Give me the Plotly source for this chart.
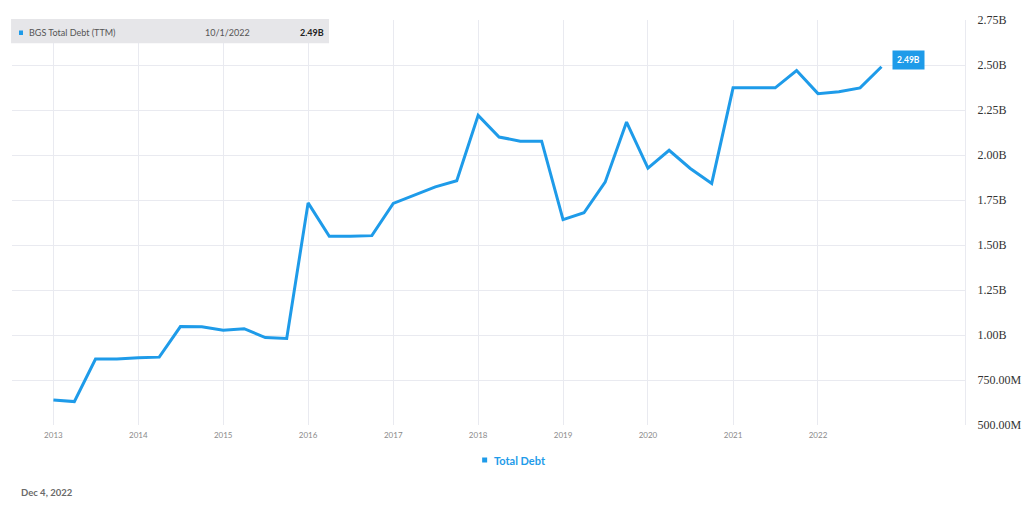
import plotly.graph_objects as go

dates = [f"{y}-{m:02d}-01" for y in range(2013, 2023) for m in (1, 4, 7, 10)]
total_debt_b = [
    0.639, 0.630, 0.866, 0.866,
    0.873, 0.877, 1.047, 1.046,
    1.027, 1.035, 0.986, 0.981,
    1.734, 1.548, 1.548, 1.552,
    1.731, 1.777, 1.823, 1.857,
    2.220, 2.100, 2.077, 2.077,
    1.641, 1.679, 1.849, 2.183,
    1.927, 2.026, 1.925, 1.842,
    2.373, 2.373, 2.373, 2.469,
    2.341, 2.352, 2.373, 2.490,
]
y_tick_vals = [0.5, 0.75, 1.0, 1.25, 1.5, 1.75, 2.0, 2.25, 2.5, 2.75]
y_tick_text = ["500.00M", "750.00M", "1.00B", "1.25B", "1.50B", "1.75B",
               "2.00B", "2.25B", "2.50B", "2.75B"]
x_tick_vals = [f"{y}-01-01" for y in range(2013, 2023)]
x_tick_text = [str(y) for y in range(2013, 2023)]

BLUE = "#1e9be9"
GRID = "#e9eaf0"
SANS = "Lato, Open Sans, sans-serif"

fig = go.Figure()
fig.add_trace(go.Scatter(
    x=dates, y=total_debt_b, mode="lines",
    line=dict(color=BLUE, width=3), name="Total Debt",
    hoverinfo="skip", showlegend=False,
))

fig.update_layout(
    width=1024, height=507,
    margin=dict(l=12, r=59, t=20, b=82, autoexpand=False),
    paper_bgcolor="white", plot_bgcolor="white",
    font=dict(family=SANS),
    xaxis=dict(
        type="date", automargin=False,
        range=["2012-07-07", "2023-09-25"],
        tickvals=x_tick_vals, ticktext=x_tick_text,
        showgrid=True, gridcolor=GRID, gridwidth=1,
        zeroline=False, showline=False,
        tickfont=dict(size=8, color="#8a8a8a", family=SANS),
        ticks="", ticklabelstandoff=4,
    ),
    yaxis=dict(
        side="right", automargin=False,
        range=[0.5, 2.75],
        tickvals=y_tick_vals, ticktext=y_tick_text,
        showgrid=True, gridcolor=GRID, gridwidth=1,
        zeroline=False, showline=True, linecolor=GRID, linewidth=1,
        tickfont=dict(size=12, color="#333333",
                      family="Liberation Serif, Times New Roman, serif"),
        ticks="", ticklabelstandoff=9,
    ),
)

# header info box
fig.add_shape(type="rect", xref="paper", yref="paper",
              x0=-0.001, x1=0.3327, y0=0.9425, y1=1.0025,
              fillcolor="#e6e6e9", line=dict(width=0), layer="above")
fig.add_shape(type="rect", xref="paper", yref="paper",
              x0=(19 - 12) / 952.7, x1=(23 - 12) / 952.7,
              y0=(425 - 35) / 405, y1=(425 - 30.5) / 405,
              fillcolor=BLUE, line=dict(width=0), layer="above")
hy = (425 - 32.7) / 405
fig.add_annotation(xref="paper", yref="paper", x=(27 - 12) / 952.7, y=hy,
                   xanchor="left", yanchor="middle", showarrow=False,
                   text="BGS Total Debt (TTM)",
                   font=dict(size=9, color="#555555", family=SANS))
fig.add_annotation(xref="paper", yref="paper", x=(203 - 12) / 952.7, y=hy,
                   xanchor="left", yanchor="middle", showarrow=False,
                   text="10/1/2022",
                   font=dict(size=9, color="#555555", family=SANS))
fig.add_annotation(xref="paper", yref="paper", x=(326 - 12) / 952.7, y=hy,
                   xanchor="right", yanchor="middle", showarrow=False,
                   text="<b>2.49B</b>",
                   font=dict(size=9, color="#222222", family=SANS))

# last value badge
fig.add_annotation(x=dates[-1], y=total_debt_b[-1], xref="x", yref="y",
                   xanchor="left", yanchor="middle", xshift=11, yshift=7,
                   showarrow=False, text="<b>2.49B</b>",
                   bgcolor=BLUE, borderpad=4,
                   font=dict(size=8.5, color="white", family=SANS))

# legend
fig.add_shape(type="rect", xref="paper", yref="paper",
              x0=(482 - 12) / 952.7, x1=(487 - 12) / 952.7,
              y0=(425 - 462.5) / 405, y1=(425 - 457.5) / 405,
              fillcolor=BLUE, line=dict(width=0))
fig.add_annotation(xref="paper", yref="paper", x=(492 - 12) / 952.7,
                   y=(425 - 460) / 405, xanchor="left", yanchor="middle",
                   showarrow=False, text="<b>Total Debt</b>",
                   font=dict(size=11, color=BLUE, family=SANS))

# date footer
fig.add_annotation(xref="paper", yref="paper", x=(19 - 12) / 952.7,
                   y=(425 - 492.7) / 405, xanchor="left", yanchor="middle",
                   showarrow=False, text="<b>Dec 4, 2022</b>",
                   font=dict(size=9.5, color="#6a6a6a", family=SANS))

fig.write_html("out.html")
